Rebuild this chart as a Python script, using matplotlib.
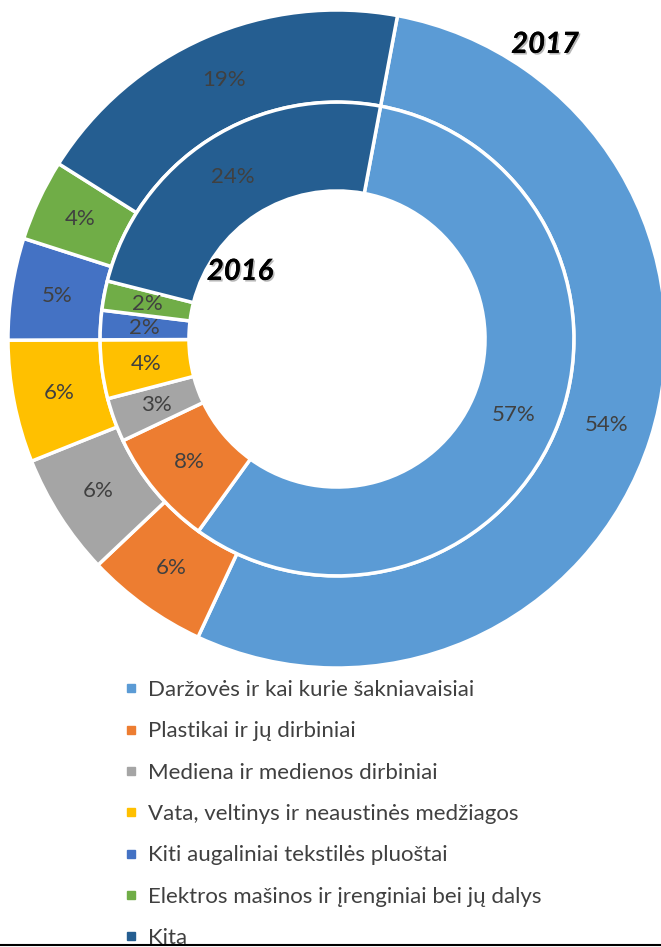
import matplotlib
matplotlib.use("Agg")
from matplotlib import pyplot as plt
from matplotlib.lines import Line2D
import matplotlib.patheffects as pe

plt.rcParams['font.family'] = ['Lato', 'DejaVu Sans']

# Duomenys (procentai)
kategorijos = [
    "Daržovės ir kai kurie šakniavaisiai",
    "Plastikai ir jų dirbiniai",
    "Mediena ir medienos dirbiniai",
    "Vata, veltinys ir neaustinės medžiagos",
    "Kiti augaliniai tekstilės pluoštai",
    "Elektros mašinos ir įrenginiai bei jų dalys",
    "Kita",
]
reiksmes_2017 = [54, 6, 6, 6, 5, 4, 19]
reiksmes_2016 = [57, 8, 3, 4, 2, 2, 24]
spalvos = ["#5B9BD5", "#ED7D31", "#A5A5A5", "#FFC000", "#4472C4", "#70AD47", "#255E91"]

fig = plt.figure(figsize=(6.61, 9.47), dpi=100)
ax = fig.add_axes([8 / 661, 1 - 668 / 947, 658 / 661, 658 / 947])

label_kw = dict(color="#404040", fontsize=16)
start = 90 - 10.6

# Išorinis žiedas - 2017
ax.pie(reiksmes_2017, colors=spalvos, radius=1.0, startangle=start,
       counterclock=False, autopct='%.0f%%', pctdistance=0.86,
       wedgeprops=dict(width=0.28, edgecolor='white', linewidth=2.5),
       textprops=label_kw)

# Vidinis žiedas - 2016
ax.pie(reiksmes_2016, colors=spalvos, radius=0.72, startangle=start,
       counterclock=False, autopct='%.0f%%', pctdistance=0.585 / 0.72,
       wedgeprops=dict(width=0.27, edgecolor='white', linewidth=2.5),
       textprops=label_kw)

ax.set_xlim(-1, 1)
ax.set_ylim(-1, 1)
ax.set_aspect('equal')
ax.axis('off')

shadow = [pe.withSimplePatchShadow(offset=(1.2, -1.2), shadow_rgbFace='#888888', alpha=0.6), pe.Normal()]
ax.text(0.632, 0.894, "2017", fontsize=21, fontweight='bold', fontstyle='italic',
        ha='center', va='center', path_effects=shadow)
ax.text(-0.295, 0.204, "2016", fontsize=21, fontweight='bold', fontstyle='italic',
        ha='center', va='center', path_effects=shadow)

# Legenda
rankenos = [Line2D([], [], linestyle='none', marker='s', markersize=5.5,
                   markerfacecolor=c, markeredgecolor=c) for c in spalvos]
fig.legend(rankenos, kategorijos, loc='upper left', bbox_to_anchor=(0.1714, 0.2935),
           frameon=False, fontsize=16, labelcolor="#404040",
           handlelength=0.6, handletextpad=0.45, labelspacing=0.96, borderpad=0)

# Apatinė linija
fig.add_artist(Line2D([0, 1], [0.0016, 0.0016], transform=fig.transFigure,
                      color='black', linewidth=1.5))

fig.savefig("out.png", dpi=100)
